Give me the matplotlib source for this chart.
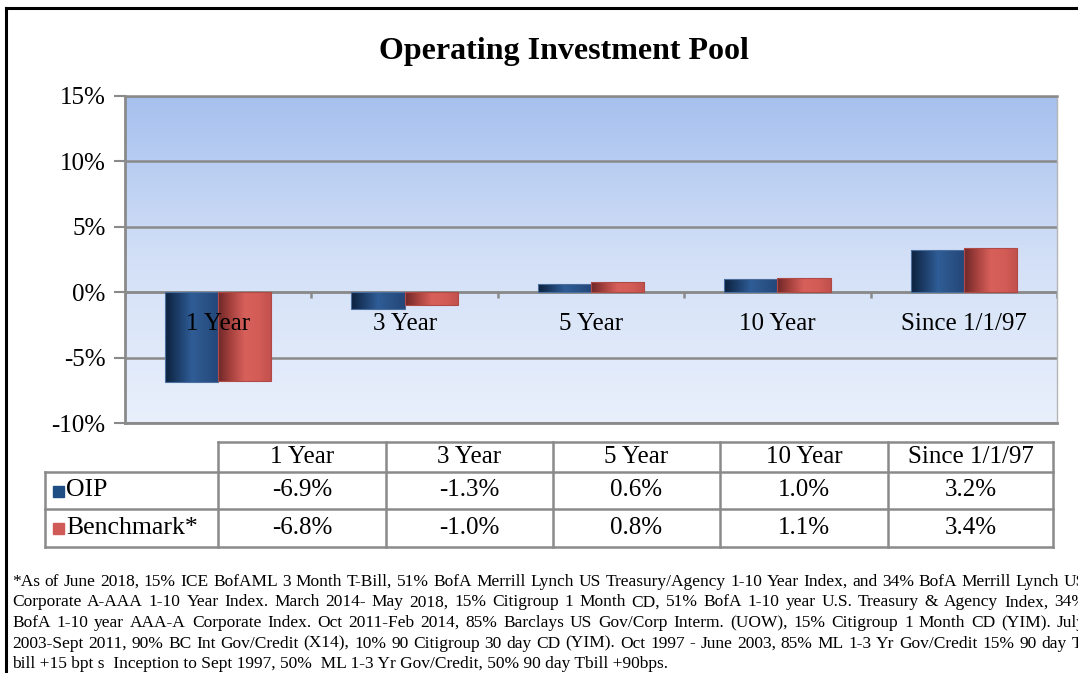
import numpy as np
import matplotlib.pyplot as plt
from matplotlib.lines import Line2D
from matplotlib.patches import Rectangle
from matplotlib.colors import LinearSegmentedColormap

plt.rcParams['font.family'] = ['Liberation Serif', 'DejaVu Serif']

# data
categories = ['1 Year', '3 Year', '5 Year', '10 Year', 'Since 1/1/97']
oip = [-6.9, -1.3, 0.6, 1.0, 3.2]
benchmark = [-6.8, -1.0, 0.8, 1.1, 3.4]
series_names = ['OIP', 'Benchmark*']
y_ticks = [-10, -5, 0, 5, 10, 15]

footnote = [
    "*As of June 2018, 15% ICE BofAML 3 Month T-Bill, 51% BofA Merrill Lynch US Treasury/Agency 1-10 Year Index, and 34% BofA Merrill Lynch US",
    "Corporate A-AAA 1-10 Year Index. March 2014- May 2018, 15% Citigroup 1 Month CD, 51% BofA 1-10 year U.S. Treasury & Agency Index, 34%",
    "BofA 1-10 year AAA-A Corporate Index. Oct 2011-Feb 2014, 85% Barclays US Gov/Corp Interm. (UOW), 15% Citigroup 1 Month CD (YIM). July",
    "2003-Sept 2011, 90% BC Int Gov/Credit (X14), 10% 90 Citigroup 30 day CD (YIM). Oct 1997 - June 2003, 85% ML 1-3 Yr Gov/Credit 15% 90 day T-",
    "bill +15 bpt s  Inception to Sept 1997, 50%  ML 1-3 Yr Gov/Credit, 50% 90 day Tbill +90bps.",
]

W, H = 1078, 673
fig = plt.figure(figsize=(W / 100, H / 100), dpi=100)


def fx(x):
    return x / W


def fy(y):
    return 1 - y / H


# outer frame (open to the right and bottom, as cropped)
fig.add_artist(Line2D([fx(6), fx(6)], [fy(8), fy(H)], color='black', lw=2.2))
fig.add_artist(Line2D([fx(6), fx(W)], [fy(8), fy(8)], color='black', lw=2.2))

fig.text(fx(564), fy(52), 'Operating Investment Pool', ha='center', va='center',
         fontsize=23, fontweight='bold')

# plot area
left, right, top, bottom = 125, 1057, 96, 423
ax = fig.add_axes([fx(left), fy(bottom), fx(right - left), (bottom - top) / H])

bg = LinearSegmentedColormap.from_list('bg', ['#e9f0fc', '#d3e0f7', '#a6c0ee'])
grad = np.linspace(0, 1, 256).reshape(-1, 1)
ax.imshow(grad, extent=[0, 1, 0, 1], transform=ax.transAxes, aspect='auto',
          cmap=bg, origin='lower', zorder=0)

x = np.arange(len(categories))
w = 0.285
blue_cm = LinearSegmentedColormap.from_list('b', ['#0c213d', '#1d3e6a', '#2f5d96', '#2a5286', '#23467a'])
red_cm = LinearSegmentedColormap.from_list('r', ['#6e2828', '#a8433f', '#d8605b', '#d45c57', '#c0504d'])
hgrad = np.linspace(0, 1, 256).reshape(1, -1)

for vals, off, cm, edge in [(oip, -w / 2, blue_cm, '#4a6f9f'), (benchmark, w / 2, red_cm, '#b04a46')]:
    bars = ax.bar(x + off, vals, width=w, color='none', edgecolor=edge, lw=0.8, zorder=4)
    for b in bars:
        bx, by = b.get_x(), b.get_y()
        bw, bh = b.get_width(), b.get_height()
        im = ax.imshow(hgrad, extent=[bx, bx + bw, by, by + bh], aspect='auto',
                       cmap=cm, zorder=3)
        im.set_clip_path(b)

ax.set_xlim(-0.5, len(categories) - 0.5)
ax.set_ylim(y_ticks[0], y_ticks[-1])
ax.set_yticks(y_ticks)
ax.set_yticklabels([f'{t}%' for t in y_ticks], fontsize=18)
ax.set_xticks([])
ax.yaxis.grid(True, color='#8a8a8a', lw=1.8, zorder=1)
ax.set_axisbelow(True)
ax.tick_params(axis='y', length=8, width=1.5, color='#8a8a8a', pad=6)

for s in ['left', 'bottom']:
    ax.spines[s].set_color('#8a8a8a')
    ax.spines[s].set_linewidth(2)
ax.spines['top'].set_color('#8a8a8a')
ax.spines['top'].set_linewidth(1.8)
ax.spines['right'].set_color('#b5b5b5')
ax.spines['right'].set_linewidth(1)

# category axis at zero
ax.axhline(0, color='#8a8a8a', lw=1.8, zorder=2)
ax.vlines(np.arange(len(categories) + 1) - 0.5, -0.45, 0, color='#8a8a8a', lw=1.8, zorder=2)
for i, c in enumerate(categories):
    ax.text(i, -2.4, c, ha='center', va='center', fontsize=18, zorder=5)

# data table
col_edges = [218, 386, 553, 720, 888, 1053]
label_left = 45
row_edges = [442, 472, 509, 547]
tc = '#8a8a8a'

fig.add_artist(Line2D([fx(col_edges[0]), fx(col_edges[-1])], [fy(row_edges[0])] * 2, color=tc, lw=1.8))
for yy in row_edges[1:]:
    fig.add_artist(Line2D([fx(label_left), fx(col_edges[-1])], [fy(yy)] * 2, color=tc, lw=1.8))
for xx in col_edges:
    fig.add_artist(Line2D([fx(xx)] * 2, [fy(row_edges[0]), fy(row_edges[-1])], color=tc, lw=1.8))
fig.add_artist(Line2D([fx(label_left)] * 2, [fy(row_edges[1]), fy(row_edges[-1])], color=tc, lw=1.8))

hy = (row_edges[0] + row_edges[1]) / 2
for j, c in enumerate(categories):
    cx = (col_edges[j] + col_edges[j + 1]) / 2
    fig.text(fx(cx), fy(hy), c, ha='center', va='center', fontsize=18)

for r, (name, vals, col) in enumerate([(series_names[0], oip, '#1f4e85'),
                                       (series_names[1], benchmark, '#d05a56')]):
    ry = (row_edges[r + 1] + row_edges[r + 2]) / 2
    fig.add_artist(Rectangle((fx(53), fy(ry + 6)), fx(11), 11 / H, color=col))
    fig.text(fx(66), fy(ry), name, ha='left', va='center', fontsize=18.5)
    for j, v in enumerate(vals):
        cx = (col_edges[j] + col_edges[j + 1]) / 2
        fig.text(fx(cx), fy(ry), f'{v:.1f}%', ha='center', va='center', fontsize=18)

# footnote, justified lines except the last (the source is cropped at the right)
renderer = fig.canvas.get_renderer()
fs = 12.5
x_start, x_end = 12, 1086
for k, line in enumerate(footnote):
    yk = fy(586 + k * 20.5)
    if k == len(footnote) - 1:
        fig.text(fx(x_start), yk, line, ha='left', va='baseline', fontsize=fs)
        continue
    words = line.split(' ')
    widths = []
    for wd in words:
        t = fig.text(0, 0, wd, fontsize=fs)
        widths.append(t.get_window_extent(renderer).width)
        t.remove()
    gap = (x_end - x_start - sum(widths)) / (len(words) - 1)
    xp = x_start
    for wd, wdt in zip(words, widths):
        fig.text(fx(xp), yk, wd, ha='left', va='baseline', fontsize=fs)
        xp += wdt + gap

fig.savefig('out.png', dpi=100)
